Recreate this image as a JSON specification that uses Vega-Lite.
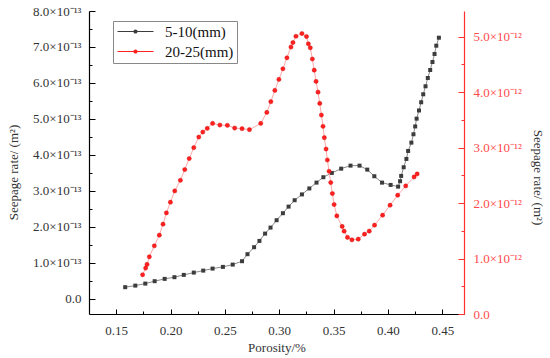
{
  "$schema": "https://vega.github.io/schema/vega-lite/v6.json",
  "width": 375,
  "height": 303,
  "autosize": {"type": "none"},
  "padding": {"left": 89, "top": 11, "right": 86, "bottom": 44},
  "background": "white",
  "config": {
    "view": {"stroke": null},
    "font": "Liberation Serif",
    "legend": {"strokeWidth": 1}
  },
  "data": {"values": [
    {"series": "5-10(mm)", "porosity": 0.1583, "rate": 0.325e-13},
    {"series": "5-10(mm)", "porosity": 0.1676, "rate": 0.369e-13},
    {"series": "5-10(mm)", "porosity": 0.1768, "rate": 0.425e-13},
    {"series": "5-10(mm)", "porosity": 0.1854, "rate": 0.492e-13},
    {"series": "5-10(mm)", "porosity": 0.1946, "rate": 0.556e-13},
    {"series": "5-10(mm)", "porosity": 0.2036, "rate": 0.603e-13},
    {"series": "5-10(mm)", "porosity": 0.2122, "rate": 0.667e-13},
    {"series": "5-10(mm)", "porosity": 0.2214, "rate": 0.731e-13},
    {"series": "5-10(mm)", "porosity": 0.2301, "rate": 0.786e-13},
    {"series": "5-10(mm)", "porosity": 0.2387, "rate": 0.842e-13},
    {"series": "5-10(mm)", "porosity": 0.2482, "rate": 0.889e-13},
    {"series": "5-10(mm)", "porosity": 0.2572, "rate": 0.953e-13},
    {"series": "5-10(mm)", "porosity": 0.2658, "rate": 1.047e-13},
    {"series": "5-10(mm)", "porosity": 0.2708, "rate": 1.242e-13},
    {"series": "5-10(mm)", "porosity": 0.2769, "rate": 1.436e-13},
    {"series": "5-10(mm)", "porosity": 0.2818, "rate": 1.611e-13},
    {"series": "5-10(mm)", "porosity": 0.2870, "rate": 1.814e-13},
    {"series": "5-10(mm)", "porosity": 0.2920, "rate": 1.981e-13},
    {"series": "5-10(mm)", "porosity": 0.2976, "rate": 2.186e-13},
    {"series": "5-10(mm)", "porosity": 0.3034, "rate": 2.381e-13},
    {"series": "5-10(mm)", "porosity": 0.3086, "rate": 2.564e-13},
    {"series": "5-10(mm)", "porosity": 0.3142, "rate": 2.742e-13},
    {"series": "5-10(mm)", "porosity": 0.3209, "rate": 2.903e-13},
    {"series": "5-10(mm)", "porosity": 0.3277, "rate": 3.069e-13},
    {"series": "5-10(mm)", "porosity": 0.3343, "rate": 3.231e-13},
    {"series": "5-10(mm)", "porosity": 0.3406, "rate": 3.381e-13},
    {"series": "5-10(mm)", "porosity": 0.3484, "rate": 3.500e-13},
    {"series": "5-10(mm)", "porosity": 0.3570, "rate": 3.619e-13},
    {"series": "5-10(mm)", "porosity": 0.3656, "rate": 3.703e-13},
    {"series": "5-10(mm)", "porosity": 0.3739, "rate": 3.703e-13},
    {"series": "5-10(mm)", "porosity": 0.3810, "rate": 3.592e-13},
    {"series": "5-10(mm)", "porosity": 0.3875, "rate": 3.408e-13},
    {"series": "5-10(mm)", "porosity": 0.3946, "rate": 3.231e-13},
    {"series": "5-10(mm)", "porosity": 0.4025, "rate": 3.167e-13},
    {"series": "5-10(mm)", "porosity": 0.4094, "rate": 3.119e-13},
    {"series": "5-10(mm)", "porosity": 0.4112, "rate": 3.270e-13},
    {"series": "5-10(mm)", "porosity": 0.4122, "rate": 3.417e-13},
    {"series": "5-10(mm)", "porosity": 0.4145, "rate": 3.658e-13},
    {"series": "5-10(mm)", "porosity": 0.4170, "rate": 3.889e-13},
    {"series": "5-10(mm)", "porosity": 0.4186, "rate": 4.111e-13},
    {"series": "5-10(mm)", "porosity": 0.4216, "rate": 4.342e-13},
    {"series": "5-10(mm)", "porosity": 0.4235, "rate": 4.575e-13},
    {"series": "5-10(mm)", "porosity": 0.4251, "rate": 4.792e-13},
    {"series": "5-10(mm)", "porosity": 0.4264, "rate": 5.008e-13},
    {"series": "5-10(mm)", "porosity": 0.4286, "rate": 5.236e-13},
    {"series": "5-10(mm)", "porosity": 0.4306, "rate": 5.464e-13},
    {"series": "5-10(mm)", "porosity": 0.4325, "rate": 5.686e-13},
    {"series": "5-10(mm)", "porosity": 0.4346, "rate": 5.908e-13},
    {"series": "5-10(mm)", "porosity": 0.4367, "rate": 6.139e-13},
    {"series": "5-10(mm)", "porosity": 0.4389, "rate": 6.361e-13},
    {"series": "5-10(mm)", "porosity": 0.4410, "rate": 6.583e-13},
    {"series": "5-10(mm)", "porosity": 0.4429, "rate": 6.806e-13},
    {"series": "5-10(mm)", "porosity": 0.4445, "rate": 7.036e-13},
    {"series": "5-10(mm)", "porosity": 0.4469, "rate": 7.258e-13},
    {"series": "20-25(mm)", "porosity": 0.1743, "rate": 0.707e-12},
    {"series": "20-25(mm)", "porosity": 0.1771, "rate": 0.827e-12},
    {"series": "20-25(mm)", "porosity": 0.1784, "rate": 0.894e-12},
    {"series": "20-25(mm)", "porosity": 0.1805, "rate": 1.031e-12},
    {"series": "20-25(mm)", "porosity": 0.1851, "rate": 1.228e-12},
    {"series": "20-25(mm)", "porosity": 0.1897, "rate": 1.421e-12},
    {"series": "20-25(mm)", "porosity": 0.1931, "rate": 1.619e-12},
    {"series": "20-25(mm)", "porosity": 0.1962, "rate": 1.822e-12},
    {"series": "20-25(mm)", "porosity": 0.1999, "rate": 2.014e-12},
    {"series": "20-25(mm)", "porosity": 0.2039, "rate": 2.218e-12},
    {"series": "20-25(mm)", "porosity": 0.2091, "rate": 2.410e-12},
    {"series": "20-25(mm)", "porosity": 0.2131, "rate": 2.603e-12},
    {"series": "20-25(mm)", "porosity": 0.2172, "rate": 2.800e-12},
    {"series": "20-25(mm)", "porosity": 0.2214, "rate": 2.998e-12},
    {"series": "20-25(mm)", "porosity": 0.2260, "rate": 3.189e-12},
    {"series": "20-25(mm)", "porosity": 0.2297, "rate": 3.279e-12},
    {"series": "20-25(mm)", "porosity": 0.2338, "rate": 3.345e-12},
    {"series": "20-25(mm)", "porosity": 0.2387, "rate": 3.435e-12},
    {"series": "20-25(mm)", "porosity": 0.2454, "rate": 3.405e-12},
    {"series": "20-25(mm)", "porosity": 0.2523, "rate": 3.399e-12},
    {"series": "20-25(mm)", "porosity": 0.2590, "rate": 3.351e-12},
    {"series": "20-25(mm)", "porosity": 0.2658, "rate": 3.340e-12},
    {"series": "20-25(mm)", "porosity": 0.2726, "rate": 3.322e-12},
    {"series": "20-25(mm)", "porosity": 0.2830, "rate": 3.435e-12},
    {"series": "20-25(mm)", "porosity": 0.2886, "rate": 3.633e-12},
    {"series": "20-25(mm)", "porosity": 0.2923, "rate": 3.826e-12},
    {"series": "20-25(mm)", "porosity": 0.2960, "rate": 4.029e-12},
    {"series": "20-25(mm)", "porosity": 0.2997, "rate": 4.227e-12},
    {"series": "20-25(mm)", "porosity": 0.3034, "rate": 4.419e-12},
    {"series": "20-25(mm)", "porosity": 0.3071, "rate": 4.617e-12},
    {"series": "20-25(mm)", "porosity": 0.3108, "rate": 4.811e-12},
    {"series": "20-25(mm)", "porosity": 0.3126, "rate": 4.892e-12},
    {"series": "20-25(mm)", "porosity": 0.3154, "rate": 5.005e-12},
    {"series": "20-25(mm)", "porosity": 0.3209, "rate": 5.054e-12},
    {"series": "20-25(mm)", "porosity": 0.3251, "rate": 5.000e-12},
    {"series": "20-25(mm)", "porosity": 0.3268, "rate": 4.869e-12},
    {"series": "20-25(mm)", "porosity": 0.3286, "rate": 4.797e-12},
    {"series": "20-25(mm)", "porosity": 0.3305, "rate": 4.595e-12},
    {"series": "20-25(mm)", "porosity": 0.3322, "rate": 4.394e-12},
    {"series": "20-25(mm)", "porosity": 0.3339, "rate": 4.191e-12},
    {"series": "20-25(mm)", "porosity": 0.3357, "rate": 3.998e-12},
    {"series": "20-25(mm)", "porosity": 0.3373, "rate": 3.795e-12},
    {"series": "20-25(mm)", "porosity": 0.3388, "rate": 3.585e-12},
    {"series": "20-25(mm)", "porosity": 0.3403, "rate": 3.381e-12},
    {"series": "20-25(mm)", "porosity": 0.3415, "rate": 3.178e-12},
    {"series": "20-25(mm)", "porosity": 0.3431, "rate": 2.973e-12},
    {"series": "20-25(mm)", "porosity": 0.3443, "rate": 2.775e-12},
    {"series": "20-25(mm)", "porosity": 0.3459, "rate": 2.572e-12},
    {"series": "20-25(mm)", "porosity": 0.3474, "rate": 2.369e-12},
    {"series": "20-25(mm)", "porosity": 0.3489, "rate": 2.171e-12},
    {"series": "20-25(mm)", "porosity": 0.3505, "rate": 1.973e-12},
    {"series": "20-25(mm)", "porosity": 0.3530, "rate": 1.768e-12},
    {"series": "20-25(mm)", "porosity": 0.3579, "rate": 1.577e-12},
    {"series": "20-25(mm)", "porosity": 0.3597, "rate": 1.493e-12},
    {"series": "20-25(mm)", "porosity": 0.3628, "rate": 1.380e-12},
    {"series": "20-25(mm)", "porosity": 0.3669, "rate": 1.336e-12},
    {"series": "20-25(mm)", "porosity": 0.3727, "rate": 1.349e-12},
    {"series": "20-25(mm)", "porosity": 0.3785, "rate": 1.439e-12},
    {"series": "20-25(mm)", "porosity": 0.3828, "rate": 1.493e-12},
    {"series": "20-25(mm)", "porosity": 0.3877, "rate": 1.601e-12},
    {"series": "20-25(mm)", "porosity": 0.3951, "rate": 1.781e-12},
    {"series": "20-25(mm)", "porosity": 0.4020, "rate": 1.960e-12},
    {"series": "20-25(mm)", "porosity": 0.4090, "rate": 2.140e-12},
    {"series": "20-25(mm)", "porosity": 0.4164, "rate": 2.308e-12},
    {"series": "20-25(mm)", "porosity": 0.4241, "rate": 2.469e-12},
    {"series": "20-25(mm)", "porosity": 0.4269, "rate": 2.523e-12}
  ]},
  "encoding": {
    "x": {
      "field": "porosity", "type": "quantitative",
      "scale": {"domain": [0.125, 0.47], "nice": false, "zero": false},
      "axis": {
        "values": [0.15, 0.175, 0.2, 0.225, 0.25, 0.275, 0.3, 0.325, 0.35, 0.375, 0.4, 0.425, 0.45],
        "labelExpr": "round(datum.value*1000) % 50 == 0 ? format(datum.value, '.2f') : ''",
        "tickSize": {"condition": {"test": "round(datum.value*1000) % 50 != 0", "value": -3}, "value": -5},
        "grid": false,
        "domainColor": "#000", "tickColor": "#000", "domainWidth": 1.2,
        "labelColor": "#333", "labelFont": "Liberation Serif", "labelFontSize": 13, "labelPadding": 15,
        "title": "Porosity/%", "titleFont": "Liberation Serif", "titleFontSize": 13, "titleFontWeight": "normal", "titleColor": "#333", "titlePadding": 4
      }
    }
  },
  "layer": [
    {
      "transform": [{"filter": "datum.series == '5-10(mm)'"}],
      "encoding": {
        "y": {
          "field": "rate", "type": "quantitative",
          "scale": {"domain": [-0.42e-13, 8e-13], "nice": false, "zero": false},
          "axis": {
            "orient": "left",
            "values": [0, 0.5e-13, 1e-13, 1.5e-13, 2e-13, 2.5e-13, 3e-13, 3.5e-13, 4e-13, 4.5e-13, 5e-13, 5.5e-13, 6e-13, 6.5e-13, 7e-13, 7.5e-13, 8e-13],
            "labelExpr": "abs(datum.value*1e13 - round(datum.value*1e13)) > 0.01 ? '' : (datum.value == 0 ? '0.0' : format(datum.value*1e13, '.1f') + '×10⁻¹³')",
            "tickSize": {"condition": {"test": "abs(datum.value*1e13 - round(datum.value*1e13)) > 0.01", "value": -3}, "value": -6},
            "grid": false,
            "domainColor": "#000", "tickColor": "#000", "domainWidth": 1.2,
            "labelColor": "#333", "labelFont": "Liberation Serif", "labelFontSize": 13, "labelPadding": 14,
            "title": "Seepage rate/ (m²)", "titleFont": "Liberation Serif", "titleFontSize": 13, "titleFontWeight": "normal", "titleColor": "#333", "titlePadding": 12, "titleY": 161
          }
        }
      },
      "layer": [
        {"mark": {"type": "line", "color": "#8a8a8a", "strokeWidth": 1}, "encoding": {}},
        {
          "mark": {"type": "point", "filled": true, "shape": "square", "size": 16, "opacity": 1},
          "encoding": {
            "color": {
              "field": "series", "type": "nominal",
              "scale": {"domain": ["5-10(mm)", "20-25(mm)"], "range": ["#3c3c3c", "#ff2020"]},
              "legend": {
                "title": null, "orient": "none", "legendX": 24, "legendY": 10,
                "strokeColor": "#888888", "fillColor": "white", "padding": 3,
                "symbolType": "M-1.2,-0.1H6V0.1H-1.2Z M2.4,-0.42A0.42,0.42 0 1,1 2.4,0.42A0.42,0.42 0 1,1 2.4,-0.42Z",
                "symbolSize": 100, "labelOffset": 34, "rowPadding": 4,
                "labelFont": "Liberation Serif", "labelFontSize": 15, "labelColor": "#111111"
              }
            }
          }
        }
      ]
    },
    {
      "transform": [{"filter": "datum.series == '20-25(mm)'"}],
      "encoding": {
        "y": {
          "field": "rate", "type": "quantitative",
          "scale": {"domain": [0, 5.46e-12], "nice": false, "zero": false},
          "axis": {
            "orient": "right",
            "values": [0, 0.5e-12, 1e-12, 1.5e-12, 2e-12, 2.5e-12, 3e-12, 3.5e-12, 4e-12, 4.5e-12, 5e-12],
            "labelExpr": "abs(datum.value*1e12 - round(datum.value*1e12)) > 0.01 ? '' : (datum.value == 0 ? '0.0' : format(datum.value*1e12, '.1f') + '×10⁻¹²')",
            "tickSize": {"condition": {"test": "abs(datum.value*1e12 - round(datum.value*1e12)) > 0.01", "value": -3}, "value": -6},
            "grid": false,
            "domainColor": "#ff3030", "tickColor": "#ff3030", "domainWidth": 1.2,
            "labelColor": "#ff4a4a", "labelFont": "Liberation Serif", "labelFontSize": 13, "labelPadding": 15,
            "title": "Seepage rate/ (m²)", "titleFont": "Liberation Serif", "titleFontSize": 13, "titleFontWeight": "normal", "titleColor": "#333", "titlePadding": 9, "titleY": 166
          }
        }
      },
      "layer": [
        {"mark": {"type": "line", "color": "#ffa8a8", "strokeWidth": 1}, "encoding": {}},
        {
          "mark": {"type": "point", "filled": true, "shape": "circle", "size": 18, "opacity": 1, "stroke": "#d00000", "strokeWidth": 0.4},
          "encoding": {
            "color": {
              "field": "series", "type": "nominal",
              "scale": {"domain": ["5-10(mm)", "20-25(mm)"], "range": ["#3c3c3c", "#ff2020"]},
              "legend": {
                "title": null, "orient": "none", "legendX": 24, "legendY": 10,
                "strokeColor": "#888888", "fillColor": "white", "padding": 3,
                "symbolType": "M-1.2,-0.1H6V0.1H-1.2Z M2.4,-0.42A0.42,0.42 0 1,1 2.4,0.42A0.42,0.42 0 1,1 2.4,-0.42Z",
                "symbolSize": 100, "labelOffset": 34, "rowPadding": 4,
                "labelFont": "Liberation Serif", "labelFontSize": 15, "labelColor": "#111111"
              }
            }
          }
        }
      ]
    }
  ],
  "resolve": {"scale": {"y": "independent"}}
}
